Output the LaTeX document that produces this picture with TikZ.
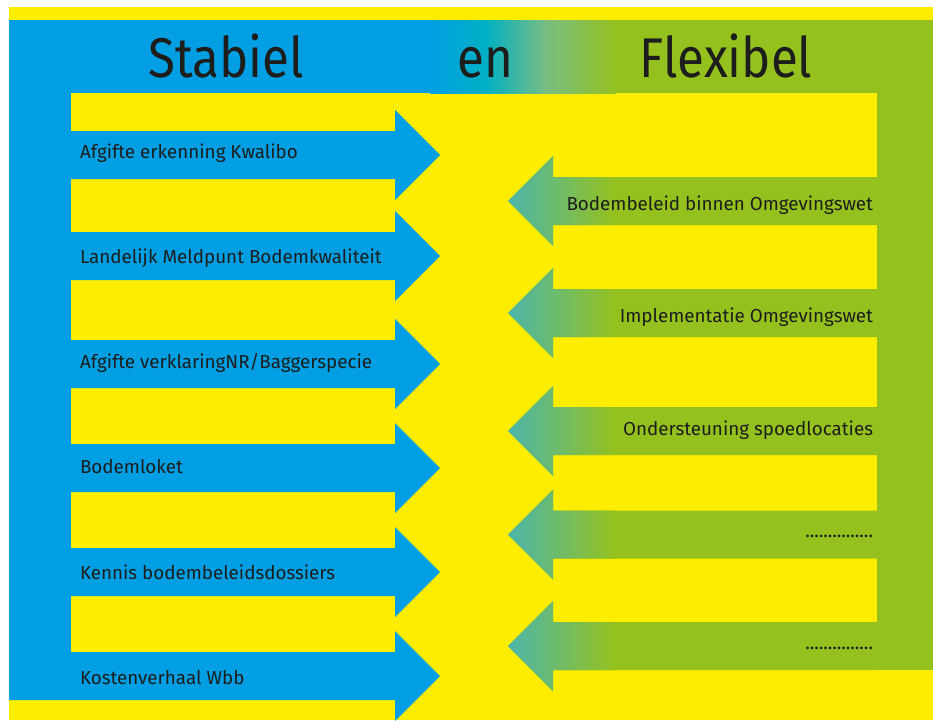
\documentclass[tikz,border=0pt]{standalone}
\usepackage{fontspec}
\usepackage{graphicx}
\setmainfont{Fira Sans}
\definecolor{rblue}{HTML}{009FE3}
\definecolor{rgreen}{HTML}{95C11F}
\definecolor{ryellow}{HTML}{FFED00}
\definecolor{rteal}{HTML}{00B0C4}
\definecolor{rmid}{HTML}{78BD82}
\definecolor{rtip}{HTML}{4CB6AA}
\definecolor{rtext}{HTML}{1D1D1B}
\newcommand{\narrowtitle}[1]{\scalebox{0.88}[1]{#1}}
\begin{document}
\begin{tikzpicture}[x=1pt,y=-1pt,
  every node/.style={inner sep=0pt, outer sep=0pt, text=rtext},
  headtext/.style={font=\fontsize{56}{60}\selectfont, anchor=base},
  lefttext/.style={font=\fontsize{18.8}{22}\selectfont, anchor=base west},
  righttext/.style={font=\fontsize{18.8}{22}\selectfont, anchor=base east}]
\useasboundingbox (0,0) rectangle (933,720);
\fill[white] (0,0) rectangle (933,720);
\fill[ryellow] (9,7) rectangle (933,720);
% side columns
\fill[rblue] (9,20) rectangle (71,700);
\fill[rgreen] (877,20) rectangle (933,670);
% header band
\begin{scope}
  \clip (9,20) rectangle (933,93);
  \fill[rblue] (9,20) rectangle (431,93);
  \shade[left color=rblue,right color=rteal] (430,15) rectangle (486,98);
  \shade[left color=rteal,right color=rmid] (485,15) rectangle (546,98);
  \shade[left color=rmid,right color=rgreen] (545,15) rectangle (616,98);
  \fill[rgreen] (615,20) rectangle (933,93);
\end{scope}
% left arrows
\foreach \c in {155,256,364,468,572,676}{
  \fill[rblue] (9,\c-24) -- (395,\c-24) -- (395,\c-45) -- (440,\c)
    -- (395,\c+45) -- (395,\c+24) -- (9,\c+24) -- cycle;
}
% right arrows
\foreach \c in {201,313,431,534.5,646}{
  \begin{scope}
    \clip (877,\c-24) -- (553,\c-24) -- (553,\c-45) -- (508,\c)
      -- (553,\c+45) -- (553,\c+24) -- (877,\c+24) -- cycle;
    \fill[rgreen] (500,\c-50) rectangle (880,\c+50);
    \shade[left color=rtip,right color=rgreen] (508,\c-50) rectangle (615,\c+50);
  \end{scope}
}
% titles
\node[headtext] (stabiel) at (226,77) {\narrowtitle{Stabiel}};
\node[headtext] (en) at (485.5,77) {\narrowtitle{en}};
\node[headtext] (flexibel) at (726,77) {\narrowtitle{Flexibel}};
% left labels
\node[lefttext] (l1) at (80,158) {Afgifte erkenning Kwalibo};
\node[lefttext] (l2) at (80,263) {Landelijk Meldpunt Bodemkwaliteit};
\node[lefttext] (l3) at (80,368) {Afgifte verklaringNR/Baggerspecie};
\node[lefttext] (l4) at (80,473) {Bodemloket};
\node[lefttext] (l5) at (80,579) {Kennis bodembeleidsdossiers};
\node[lefttext] (l6) at (80,684) {Kostenverhaal Wbb};
% right labels
\node[righttext] (r1) at (873,210) {Bodembeleid binnen Omgevingswet};
\node[righttext] (r2) at (873,322) {Implementatie Omgevingswet};
\node[righttext] (r3) at (873,435) {Ondersteuning spoedlocaties};
\node[righttext] (r4) at (873,537) {...............};
\node[righttext] (r5) at (873,649) {...............};
\end{tikzpicture}
\end{document}
